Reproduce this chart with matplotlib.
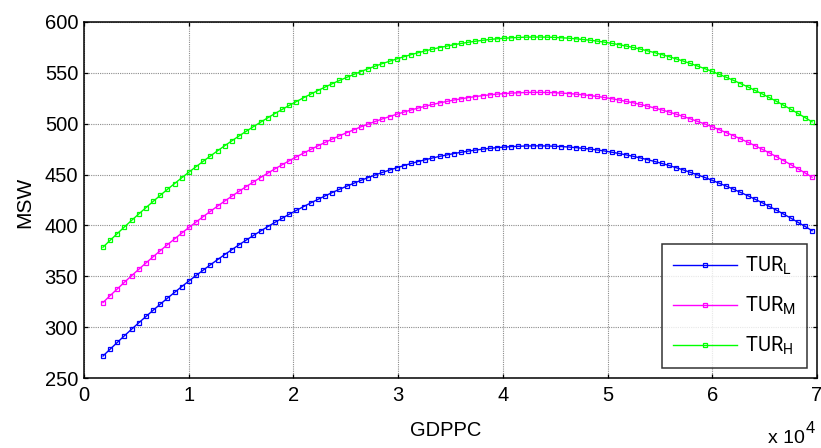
import matplotlib
matplotlib.use("Agg")
import matplotlib.pyplot as plt

plt.rcParams['font.family'] = ['Liberation Sans', 'DejaVu Sans']
leg_font = 'Roboto'
plt.rcParams['mathtext.fontset'] = 'custom'
plt.rcParams['mathtext.rm'] = leg_font
plt.rcParams['mathtext.it'] = leg_font

gdppc = [1815, 2499, 3183, 3867, 4551, 5235, 5919, 6603, 7287, 7971,
         8655, 9339, 10023, 10707, 11391, 12075, 12759, 13443, 14127, 14811,
         15495, 16179, 16863, 17547, 18231, 18915, 19599, 20283, 20967, 21651,
         22335, 23019, 23703, 24387, 25071, 25755, 26439, 27123, 27807, 28491,
         29175, 29859, 30543, 31227, 31911, 32595, 33279, 33963, 34647, 35331,
         36015, 36699, 37383, 38067, 38751, 39435, 40119, 40803, 41487, 42171,
         42855, 43539, 44223, 44907, 45591, 46275, 46959, 47643, 48327, 49011,
         49695, 50379, 51063, 51747, 52431, 53115, 53799, 54483, 55167, 55851,
         56535, 57219, 57903, 58587, 59271, 59955, 60639, 61323, 62007, 62691,
         63375, 64059, 64743, 65427, 66111, 66795, 67479, 68163, 68847, 69531]

tur_l = [271.6, 278.4, 285.0, 291.6, 298.0, 304.3, 310.5, 316.6, 322.6, 328.5,
         334.2, 339.9, 345.4, 350.8, 356.1, 361.3, 366.4, 371.4, 376.2, 381.0,
         385.6, 390.1, 394.5, 398.8, 403.0, 407.0, 411.0, 414.8, 418.5, 422.1,
         425.6, 429.0, 432.3, 435.5, 438.5, 441.4, 444.3, 447.0, 449.6, 452.1,
         454.4, 456.7, 458.8, 460.9, 462.8, 464.6, 466.3, 467.9, 469.3, 470.7,
         471.9, 473.1, 474.1, 475.0, 475.8, 476.5, 477.0, 477.5, 477.8, 478.1,
         478.2, 478.2, 478.1, 477.9, 477.5, 477.1, 476.5, 475.8, 475.1, 474.2,
         473.2, 472.0, 470.8, 469.4, 468.0, 466.4, 464.7, 462.9, 461.0, 459.0,
         456.8, 454.6, 452.2, 449.7, 447.2, 444.5, 441.6, 438.7, 435.7, 432.5,
         429.3, 425.9, 422.4, 418.8, 415.1, 411.2, 407.3, 403.2, 399.1, 394.8]

tur_m = [324.2, 331.0, 337.6, 344.2, 350.6, 356.9, 363.1, 369.2, 375.2, 381.1,
         386.8, 392.5, 398.0, 403.4, 408.7, 413.9, 419.0, 424.0, 428.8, 433.6,
         438.2, 442.7, 447.1, 451.4, 455.6, 459.6, 463.6, 467.4, 471.1, 474.7,
         478.2, 481.6, 484.9, 488.1, 491.1, 494.0, 496.9, 499.6, 502.2, 504.7,
         507.0, 509.3, 511.4, 513.5, 515.4, 517.2, 518.9, 520.5, 521.9, 523.3,
         524.5, 525.7, 526.7, 527.6, 528.4, 529.1, 529.6, 530.1, 530.4, 530.7,
         530.8, 530.8, 530.7, 530.5, 530.1, 529.7, 529.1, 528.4, 527.7, 526.8,
         525.8, 524.6, 523.4, 522.0, 520.6, 519.0, 517.3, 515.5, 513.6, 511.6,
         509.4, 507.2, 504.8, 502.3, 499.8, 497.1, 494.2, 491.3, 488.3, 485.1,
         481.9, 478.5, 475.0, 471.4, 467.7, 463.8, 459.9, 455.8, 451.7, 447.4]

tur_h = [378.6, 385.4, 392.0, 398.6, 405.0, 411.3, 417.5, 423.6, 429.6, 435.5,
         441.2, 446.9, 452.4, 457.8, 463.1, 468.3, 473.4, 478.4, 483.2, 488.0,
         492.6, 497.1, 501.5, 505.8, 510.0, 514.0, 518.0, 521.8, 525.5, 529.1,
         532.6, 536.0, 539.3, 542.5, 545.5, 548.4, 551.3, 554.0, 556.6, 559.1,
         561.4, 563.7, 565.8, 567.9, 569.8, 571.6, 573.3, 574.9, 576.3, 577.7,
         578.9, 580.1, 581.1, 582.0, 582.8, 583.5, 584.0, 584.5, 584.8, 585.1,
         585.2, 585.2, 585.1, 584.9, 584.5, 584.1, 583.5, 582.8, 582.1, 581.2,
         580.2, 579.0, 577.8, 576.4, 575.0, 573.4, 571.7, 569.9, 568.0, 566.0,
         563.8, 561.6, 559.2, 556.7, 554.2, 551.5, 548.6, 545.7, 542.7, 539.5,
         536.3, 532.9, 529.4, 525.8, 522.1, 518.2, 514.3, 510.2, 506.1, 501.8]

series_labels = [r'TUR$_\mathrm{L}$', r'TUR$_\mathrm{M}$', r'TUR$_\mathrm{H}$']
series_colors = ['#0000ff', '#ff00ff', '#00ff00']
x_ticks = [0, 10000, 20000, 30000, 40000, 50000, 60000, 70000]
x_ticklabels = ['0', '1', '2', '3', '4', '5', '6', '7']
y_ticks = [250, 300, 350, 400, 450, 500, 550, 600]

fig = plt.figure(figsize=(8.21, 4.48), dpi=100)
ax = fig.add_axes([84/821, 1-378/448, 733/821, 356/448])

for ys, lab, col in zip([tur_l, tur_m, tur_h], series_labels, series_colors):
    ax.plot(gdppc, ys, color=col, lw=1.0, marker='s', markersize=3.3,
            markerfacecolor='none', markeredgecolor=col, markeredgewidth=0.9,
            label=lab, clip_on=False)

ax.set_xlim(0, 70000)
ax.set_ylim(250, 600)
ax.set_xticks(x_ticks)
ax.set_xticklabels(x_ticklabels)
ax.set_yticks(y_ticks)
ax.tick_params(direction='in', top=True, right=True, labelsize=14.5,
               length=3, width=0.9)
ax.tick_params(axis='x', pad=5.5)
ax.tick_params(axis='y', pad=4.2)
ax.grid(True, color='#8c8c8c', linestyle=(0, (1, 1)), linewidth=0.8)
for s in ax.spines.values():
    s.set_linewidth(1.1)

ax.set_xlabel('GDPPC', fontsize=14.5)
ax.set_ylabel('MSW', fontsize=15)
ax.xaxis.set_label_coords(0.494, -0.1208)
ax.yaxis.set_label_coords(-0.0677, 0.493)

fig.text(768/821, 1-443/448, 'x 10', ha='left', va='baseline', fontsize=14)
fig.text(806/821, 1-433/448, '4', ha='left', va='baseline', fontsize=12)

leg = ax.legend(loc='lower right', bbox_to_anchor=((807-84)/733, 10/356),
                borderaxespad=0, frameon=True, fancybox=False,
                prop={'family': [leg_font, 'Liberation Sans'], 'size': 14.5},
                edgecolor='black', handlelength=3.2, labelspacing=0.88,
                borderpad=0.55, handletextpad=0.4)
leg.get_frame().set_linewidth(1.1)

fig.savefig('out.png', dpi=100)
